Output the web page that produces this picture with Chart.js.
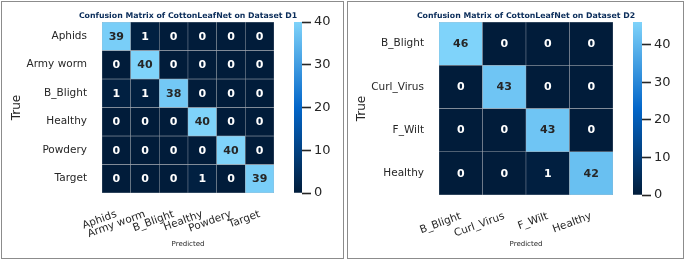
<!DOCTYPE html>
<html>
<head>
<meta charset="utf-8">
<script src="https://cdn.jsdelivr.net/npm/chart.js@4.4.1/dist/chart.umd.min.js"></script>
<style>
    body { margin: 0; background: #fff; width: 685px; height: 260px; position: relative; overflow: hidden; }
    .panel { position: absolute; border: 1px solid #8c8c8c; box-sizing: border-box; }
    canvas { position: absolute; }
</style>
</head>
<body>
<div class="panel" style="left:1px; top:1px; width:343px; height:258px;"></div>
<div class="panel" style="left:347px; top:1px; width:337px; height:258px;"></div>
<canvas id="heat1" style="left:0; top:0;" width="345" height="260"></canvas>
<canvas id="bar1" style="left:290px; top:0;" width="55" height="260"></canvas>
<canvas id="heat2" style="left:345px; top:0;" width="340" height="260"></canvas>
<canvas id="bar2" style="left:629px; top:0;" width="55" height="260"></canvas>
<script>
// --- Data ---
const d1Labels = ['Aphids', 'Army worm', 'B_Blight', 'Healthy', 'Powdery', 'Target'];
const d1Rows = [
    [39, 1, 0, 0, 0, 0],
    [0, 40, 0, 0, 0, 0],
    [1, 1, 38, 0, 0, 0],
    [0, 0, 0, 40, 0, 0],
    [0, 0, 0, 0, 40, 0],
    [0, 0, 0, 1, 0, 39]
];
const d1Max = 40;
const d1Ticks = [0, 10, 20, 30, 40];

const d2Labels = ['B_Blight', 'Curl_Virus', 'F_Wilt', 'Healthy'];
const d2Rows = [
    [46, 0, 0, 0],
    [0, 43, 0, 0],
    [0, 0, 43, 0],
    [0, 0, 1, 42]
];
const d2Max = 46;
const d2Ticks = [0, 10, 20, 30, 40];

const FONT = 'DejaVu Sans';
const TEXT = '#262626';

// dark navy -> blue -> light sky
const cmapStops = [
    [0, [1, 28, 58]],
    [0.5, [3, 102, 201]],
    [1, [127, 211, 250]]
];

function cmap(t) {
    t = Math.max(0, Math.min(1, t));
    for (let i = 1; i < cmapStops.length; i++) {
        const [t1, c1] = cmapStops[i];
        const [t0, c0] = cmapStops[i - 1];
        if (t <= t1) {
            const f = (t - t0) / (t1 - t0);
            const c = c0.map((v, k) => Math.round(v + (c1[k] - v) * f));
            return `rgb(${c[0]},${c[1]},${c[2]})`;
        }
    }
}

// draws the counts in the middle of each cell
const cellLabels = {
    id: 'cellLabels',
    afterDatasetsDraw(chart, args, opts) {
        const ctx = chart.ctx;
        ctx.save();
        ctx.font = `bold ${opts.size}px ${FONT}`;
        ctx.textAlign = 'center';
        ctx.textBaseline = 'middle';
        chart.data.datasets.forEach((ds, i) => {
            chart.getDatasetMeta(i).data.forEach((bar, j) => {
                const v = ds.counts[j];
                ctx.fillStyle = v / opts.max > 0.5 ? TEXT : '#ffffff';
                ctx.fillText(String(v), bar.x, (bar.y + bar.base) / 2 + 0.5);
            });
        });
        ctx.restore();
    }
};

// title centred over the matrix, not the whole canvas
const matrixTitle = {
    id: 'matrixTitle',
    afterDraw(chart, args, opts) {
        const ctx = chart.ctx;
        const area = chart.chartArea;
        ctx.save();
        ctx.font = `bold 7.8px ${FONT}`;
        ctx.fillStyle = '#0b2d5a';
        ctx.textAlign = 'center';
        ctx.textBaseline = 'middle';
        ctx.fillText(opts.text, (area.left + area.right) / 2, 16);
        ctx.restore();
    }
};

function makeHeatmap(canvasId, labels, rows, vmax, title, yWidth, rightPad, bottom, valueSize) {
    const datasets = rows.map((row, i) => ({
        label: labels[i],
        data: row.map(() => 1),
        counts: row,
        backgroundColor: row.map(v => cmap(v / vmax)),
        borderColor: '#9ea4ad',
        borderWidth: 0.5,
        borderSkipped: false,
        barPercentage: 1,
        categoryPercentage: 1
    }));

    return new Chart(document.getElementById(canvasId), {
        type: 'bar',
        data: { labels: labels, datasets: datasets },
        plugins: [cellLabels, matrixTitle],
        options: {
            responsive: false,
            animation: false,
            layout: { padding: { top: 22, right: rightPad, bottom: 0, left: 0 } },
            scales: {
                x: {
                    stacked: true,
                    grid: { display: false, drawTicks: false },
                    border: { display: false },
                    ticks: {
                        autoSkip: false,
                        maxRotation: 20,
                        minRotation: 20,
                        padding: 15,
                        color: TEXT,
                        font: { family: FONT, size: 10.5 }
                    },
                    title: {
                        display: true,
                        text: 'Predicted',
                        color: TEXT,
                        font: { family: FONT, size: 7 },
                        padding: { top: 0, bottom: 12 }
                    },
                    afterFit: s => { s.height = bottom; }
                },
                y: {
                    stacked: true,
                    reverse: true,
                    min: 0,
                    max: labels.length,
                    grid: { display: false, drawTicks: false },
                    border: { display: false },
                    afterBuildTicks: s => { s.ticks = labels.map((_, i) => ({ value: i + 0.5 })); },
                    ticks: {
                        autoSkip: false,
                        padding: 15,
                        color: TEXT,
                        font: { family: FONT, size: 10.5 },
                        callback: v => labels[Math.floor(v)]
                    },
                    title: {
                        display: true,
                        text: 'True',
                        color: TEXT,
                        font: { family: FONT, size: 12 },
                        padding: { top: 10, bottom: 0 }
                    },
                    afterFit: s => { s.width = yWidth; }
                }
            },
            plugins: {
                legend: { display: false },
                tooltip: { enabled: false },
                cellLabels: { size: valueSize, max: vmax },
                matrixTitle: { text: title }
            }
        }
    });
}

function makeColorbar(canvasId, vmax, ticks, barWidth, bottom) {
    return new Chart(document.getElementById(canvasId), {
        type: 'bar',
        data: {
            labels: [''],
            datasets: [{
                data: [[0, vmax]],
                backgroundColor: (ctx) => {
                    const area = ctx.chart.chartArea;
                    if (!area) return cmap(0.5);
                    const g = ctx.chart.ctx.createLinearGradient(0, area.bottom, 0, area.top);
                    cmapStops.forEach(([t, c]) => g.addColorStop(t, `rgb(${c[0]},${c[1]},${c[2]})`));
                    return g;
                },
                borderWidth: 0,
                barPercentage: 1,
                categoryPercentage: 1
            }]
        },
        options: {
            responsive: false,
            animation: false,
            layout: { padding: { top: 22, left: 4, right: 0, bottom: bottom } },
            scales: {
                x: { display: false },
                y: {
                    position: 'right',
                    min: 0,
                    max: vmax,
                    afterBuildTicks: s => { s.ticks = ticks.map(v => ({ value: v })); },
                    grid: {
                        drawOnChartArea: false,
                        drawTicks: true,
                        tickLength: 9,
                        tickWidth: 1.6,
                        tickColor: TEXT
                    },
                    border: { display: false },
                    ticks: {
                        padding: 3,
                        color: TEXT,
                        font: { family: FONT, size: 13 }
                    },
                    afterFit: s => { s.width = 55 - 4 - barWidth; }
                }
            },
            plugins: {
                legend: { display: false },
                tooltip: { enabled: false }
            }
        }
    });
}

makeHeatmap('heat1', d1Labels, d1Rows, d1Max,
    'Confusion Matrix of CottonLeafNet on Dataset D1', 102, 71, 67, 11);
makeColorbar('bar1', d1Max, d1Ticks, 8, 67);

makeHeatmap('heat2', d2Labels, d2Rows, d2Max,
    'Confusion Matrix of CottonLeafNet on Dataset D2', 94, 72, 65, 11);
makeColorbar('bar2', d2Max, d2Ticks, 9, 65);
</script>
</body>
</html>
